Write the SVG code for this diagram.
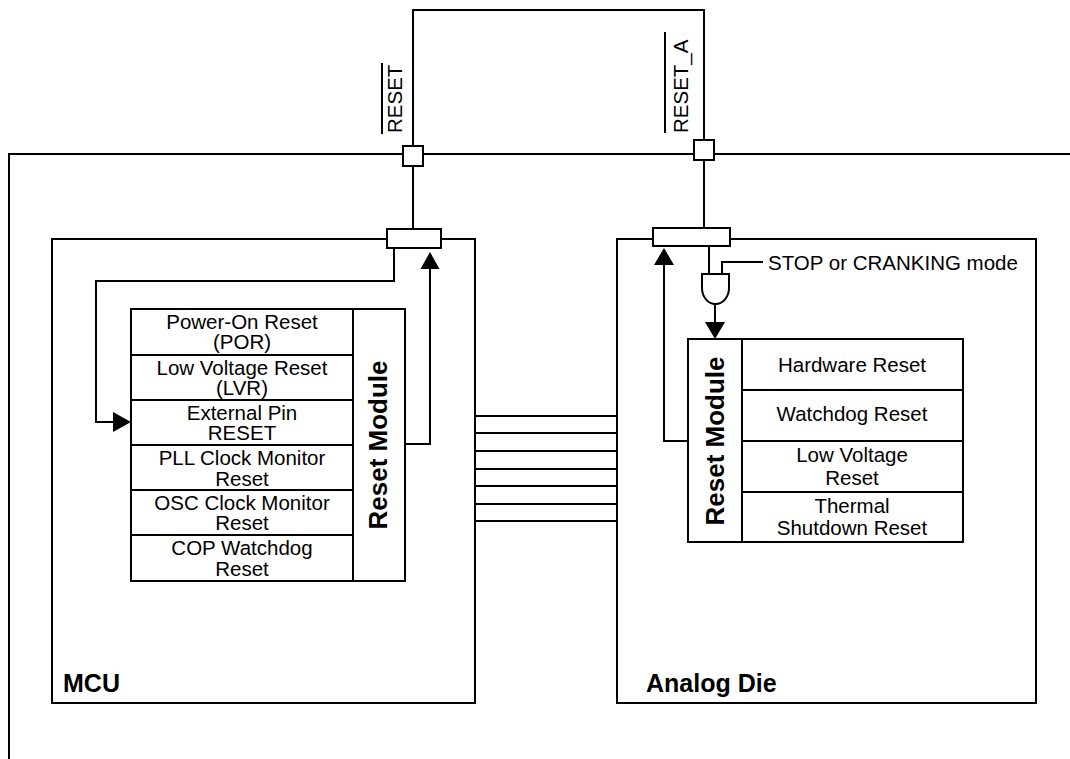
<svg xmlns="http://www.w3.org/2000/svg" width="1070" height="759" viewBox="0 0 1070 759">
<style>
.ln{fill:none;stroke:#000;stroke-width:2}
.bx{fill:#fff;stroke:#000;stroke-width:2}
.ah{fill:#000;stroke:none}
.t{font-family:"Liberation Sans",Arial,sans-serif;font-size:20.5px;fill:#000;text-anchor:middle}
.tl{font-family:"Liberation Sans",Arial,sans-serif;font-size:20.5px;fill:#000}
.b{font-family:"Liberation Sans",Arial,sans-serif;font-size:25px;font-weight:bold;fill:#000}
.rm{font-family:"Liberation Sans",Arial,sans-serif;font-size:26px;font-weight:bold;fill:#000;text-anchor:middle}
</style>
<rect width="1070" height="759" fill="#fff"/>
<g id="package">
<path class="ln" d="M9,759 V154 H1070"/>
</g>
<g id="mcu">
<rect class="bx" x="52" y="239" width="423" height="464"/>
<text class="b" x="63" y="692">MCU</text>
</g>
<g id="analog-die">
<rect class="bx" x="617" y="239" width="419" height="464"/>
<text class="b" x="646" y="692">Analog Die</text>
</g>
<g id="connectors">
<path class="ln" d="M413,166 V229"/>
<path class="ln" d="M704,160 V228"/>
<path class="ln" d="M413,146 V10 H704 V140"/>
<path class="ln" d="M394,248 V281 H96 V422 H114"/>
<polygon class="ah" points="113,412 131,422 113,432"/>
<path class="ln" d="M405,444 H430 V268"/>
<polygon class="ah" points="420.5,269 430,252 439.5,269"/>
<path class="ln" d="M709,246 V274"/>
<path class="ln" d="M722,274 V262 H763"/>
<path class="ln" d="M715,304 V323"/>
<polygon class="ah" points="705,322 715,339 725,322"/>
<path class="ln" d="M688,441 H664 V264"/>
<polygon class="ah" points="654,265 664,248 674,265"/>
<path class="ln" d="M475,416 H617 M475,433 H617 M475,451 H617 M475,469 H617 M475,486 H617 M475,504 H617 M475,521 H617"/>
</g>
<g id="pin-reset">
<rect class="bx" x="403" y="146" width="20" height="20"/>
<text class="tl" font-size="21" transform="translate(402,133) rotate(-90)">RESET</text>
<line class="ln" x1="382" y1="63" x2="382" y2="134"/>
</g>
<g id="pin-reset-a">
<rect class="bx" x="694" y="140" width="20" height="20"/>
<text class="tl" font-size="21.5" transform="translate(688,133) rotate(-90)">RESET_A</text>
<line class="ln" x1="665" y1="32" x2="665" y2="133"/>
</g>
<g id="mcu-connector">
<rect class="bx" x="387" y="229" width="54" height="19"/>
</g>
<g id="analog-connector">
<rect class="bx" x="653" y="228" width="77" height="18"/>
</g>
<g id="and-gate">
<path class="bx" d="M702,274 H729 V288 A13.5,16 0 0 1 702,288 Z"/>
<text class="tl" x="768" y="270">STOP or CRANKING mode</text>
</g>
<g id="mcu-reset-module">
<rect class="bx" x="131" y="309" width="222" height="272"/>
<rect class="bx" x="353" y="309" width="52" height="272"/>
<path class="ln" d="M131,355 H353 M131,400 H353 M131,445 H353 M131,490 H353 M131,535 H353"/>
<text class="t"><tspan x="242" y="329">Power-On Reset</tspan><tspan x="242" y="349">(POR)</tspan></text>
<text class="t"><tspan x="242" y="375">Low Voltage Reset</tspan><tspan x="242" y="395">(LVR)</tspan></text>
<text class="t"><tspan x="242" y="420">External Pin</tspan><tspan x="242" y="440">RESET</tspan></text>
<text class="t"><tspan x="242" y="465">PLL Clock Monitor</tspan><tspan x="242" y="486">Reset</tspan></text>
<text class="t"><tspan x="242" y="510">OSC Clock Monitor</tspan><tspan x="242" y="530">Reset</tspan></text>
<text class="t"><tspan x="242" y="555">COP Watchdog</tspan><tspan x="242" y="576">Reset</tspan></text>
<text class="rm" transform="translate(387,445) rotate(-90)">Reset Module</text>
</g>
<g id="analog-reset-module">
<rect class="bx" x="688" y="339" width="54" height="203"/>
<rect class="bx" x="742" y="339" width="221" height="203"/>
<path class="ln" d="M742,390 H963 M742,441 H963 M742,492 H963"/>
<text class="t" x="852" y="372">Hardware Reset</text>
<text class="t" x="852" y="421">Watchdog Reset</text>
<text class="t"><tspan x="852" y="462">Low Voltage</tspan><tspan x="852" y="485">Reset</tspan></text>
<text class="t"><tspan x="852" y="513">Thermal</tspan><tspan x="852" y="535">Shutdown Reset</tspan></text>
<text class="rm" transform="translate(724,441) rotate(-90)">Reset Module</text>
</g>
</svg>
